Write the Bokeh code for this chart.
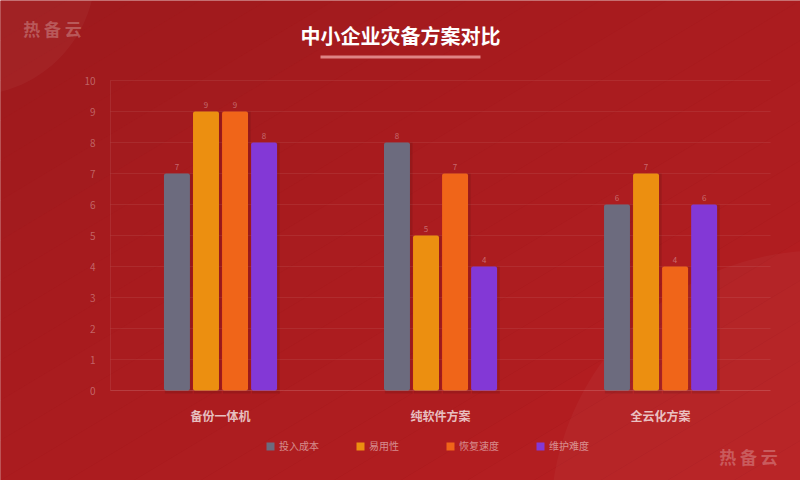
from bokeh.plotting import figure
from bokeh.models import (ColumnDataSource, Legend, LegendItem, Label, BoxAnnotation,
                          FixedTicker, PolyAnnotation, LinearAxis, Range1d)
from bokeh.core.properties import value
from bokeh.transform import dodge
from bokeh.embed import file_html
from bokeh.resources import INLINE
import numpy as np

# 数据
schemes = ["备份一体机", "纯软件方案", "全云化方案"]
metrics = ["投入成本", "易用性", "恢复速度", "维护难度"]
cost = [7, 8, 6]
usability = [9, 5, 7]
recovery = [9, 7, 4]
maintenance = [8, 4, 6]
y_ticks = list(range(0, 11))
colors = ["#6c6b7e", "#ec8f10", "#f06519", "#8338d6"]

FONT = "Noto Sans CJK SC"
W, H = 800, 480

src = ColumnDataSource(dict(x=list(range(len(schemes))), cost=cost, usability=usability,
                            recovery=recovery, maintenance=maintenance))

# 绘图区铺满整个画布，坐标轴用 fixed_location 放在内部
p = figure(width=W, height=H, x_range=Range1d(-1.0, 2.636), y_range=Range1d(-2.903, 12.581),
           output_backend="svg", toolbar_location=None, x_axis_location=None,
           y_axis_location=None, background_fill_color="#a21b1e", border_fill_color="#a21b1e",
           outline_line_color=None, min_border=0)
p.xgrid.visible = False
p.ygrid.visible = False

# 背景渐变（左上深、右下浅）
n = 24
c0, c1 = np.array([158, 26, 29]), np.array([184, 31, 34])
for i in range(n):
    s0, s1 = i / n * 2, (i + 1) / n * 2
    col = c0 + (c1 - c0) * (i + 0.5) / n
    # 等值线: px/W + py_top/H = s ; 屏幕 y 从底部起算
    xs = [s0 * W, s1 * W, 0 - 5, 0 - 5]
    pts_x = [s0 * W, s1 * W, (s1 - 1) * W, (s0 - 1) * W]
    pts_y = [H, H, 0, 0]
    p.add_layout(PolyAnnotation(xs=pts_x, ys=pts_y, xs_units="screen", ys_units="screen",
                                fill_color="#%02x%02x%02x" % tuple(int(v) for v in col),
                                fill_alpha=1, line_color=None, level="underlay"))

# 背景装饰圆
t = np.linspace(0, 2 * np.pi, 160)
p.add_layout(PolyAnnotation(xs=list(-30 + 125 * np.cos(t)), ys=list(H + 30 + 125 * np.sin(t)),
                            xs_units="screen", ys_units="screen", fill_color="white",
                            fill_alpha=0.035, line_color=None, level="underlay"))
p.add_layout(PolyAnnotation(xs=list(820 + 270 * np.cos(t)), ys=list(-40 + 270 * np.sin(t)),
                            xs_units="screen", ys_units="screen", fill_color="white",
                            fill_alpha=0.03, line_color=None, level="underlay"))

# 网格线
p.segment(x0=-0.5, x1=2.5, y0=y_ticks[1:], y1=y_ticks[1:], line_color="white",
          line_alpha=0.07, line_width=1)

offsets = [-0.198, -0.066, 0.066, 0.198]
fields = ["cost", "usability", "recovery", "maintenance"]
renderers = []
for f, off, c in zip(fields, offsets, colors):
    # 阴影
    p.vbar(x=dodge("x", off + 0.008), top=f, bottom=-0.1, width=0.126, source=src,
           fill_color="black", fill_alpha=0.1, line_color=None)
    r = p.vbar(x=dodge("x", off), top=f, width=0.118, source=src,
               fill_color=c, line_color=None, border_radius=2)
    renderers.append(r)
    p.text(x=dodge("x", off), y=f, text=f, source=src,
           text_align="center", text_baseline="bottom", y_offset=-4,
           text_font_size="8px", text_color="white", text_alpha=0.35,
           text_font=value(FONT))

# 坐标轴
yaxis = LinearAxis(fixed_location=-0.5, bounds=(0, 10), ticker=FixedTicker(ticks=y_ticks))
yaxis.major_tick_line_color = None
yaxis.minor_tick_line_color = None
yaxis.axis_line_color = "white"
yaxis.axis_line_alpha = 0.08
yaxis.major_label_text_color = "white"
yaxis.major_label_text_alpha = 0.32
yaxis.major_label_text_font_size = "10px"
yaxis.major_label_text_font = FONT
yaxis.major_label_standoff = 9
p.add_layout(yaxis, "left")

xaxis = LinearAxis(fixed_location=0, bounds=(-0.5, 2.5), ticker=FixedTicker(ticks=[0, 1, 2]),
                   major_label_overrides={i: s for i, s in enumerate(schemes)})
xaxis.major_tick_line_color = None
xaxis.minor_tick_line_color = None
xaxis.axis_line_color = "white"
xaxis.axis_line_alpha = 0.15
xaxis.major_label_text_color = "white"
xaxis.major_label_text_alpha = 0.72
xaxis.major_label_text_font_size = "12px"
xaxis.major_label_text_font_style = "bold"
xaxis.major_label_text_font = FONT
xaxis.major_label_standoff = 10
p.add_layout(xaxis, "below")

# 标题
p.add_layout(Label(x=400, y=H - 35, x_units="screen", y_units="screen", text="中小企业灾备方案对比",
                   text_align="center", text_baseline="middle", text_font=FONT,
                   text_font_size="20px", text_font_style="bold", text_color="white"))
p.add_layout(BoxAnnotation(left=320, right=480, bottom=H - 58, top=H - 55, left_units="screen",
                           right_units="screen", bottom_units="screen", top_units="screen",
                           fill_color="#f2a8a8", fill_alpha=0.75, line_color=None))

# 水印
for x, y in [(52, H - 28), (748, H - 456)]:
    p.add_layout(Label(x=x, y=y, x_units="screen", y_units="screen", text="热 备 云",
                       text_align="center", text_baseline="middle", text_font=FONT,
                       text_font_size="17px", text_font_style="bold", text_color="white",
                       text_alpha=0.25))

# 图例
legend = Legend(items=[LegendItem(label=m, renderers=[r]) for m, r in zip(metrics, renderers)],
                orientation="horizontal", location=(265, H - 453),
                background_fill_alpha=0, border_line_color=None,
                glyph_width=10, glyph_height=10, label_standoff=4, label_width=66,
                spacing=10, label_text_font=FONT, label_text_font_size="10px",
                label_text_color="white", label_text_alpha=0.5, padding=0, margin=0)
p.add_layout(legend, "center")

open("out.html", "w").write(file_html(p, INLINE))
